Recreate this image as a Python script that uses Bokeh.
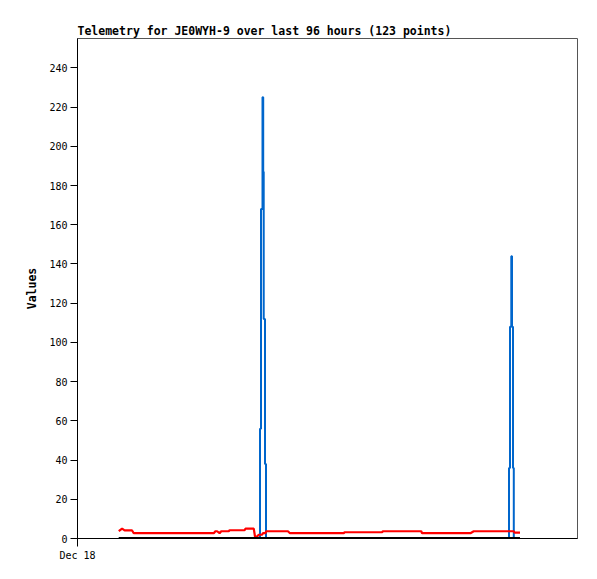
from bokeh.plotting import figure
from bokeh.models import Range1d, FixedTicker
from bokeh.embed import file_html
from bokeh.resources import INLINE

# time in hours after Dec 18 00:00
red_t = [9.9, 10.7, 11.3, 13.1, 13.5, 32.7, 33.1, 33.5, 34.1, 34.5, 36.3, 36.5, 40.1, 40.3,
         42.3, 42.6, 43.1, 43.5, 44.3, 44.5, 45.1, 45.3, 50.5, 51.0, 63.9, 64.1, 73.1, 73.3,
         82.5, 82.7, 94.3, 94.7, 95.1, 104.7, 104.9, 106.2]
red_v = [3.7, 5.0, 4.1, 4.1, 2.7, 2.7, 3.7, 3.7, 2.7, 3.7, 3.7, 4.2, 4.2, 5.0,
         5.0, 1.0, 1.0, 1.9, 1.9, 2.7, 2.7, 3.7, 3.7, 2.7, 2.7, 3.2, 3.2, 3.7,
         3.7, 2.7, 2.7, 3.2, 3.7, 3.7, 3.0, 3.0]

blue_t = [9.9, 43.8, 44.04, 44.4, 44.57, 44.69, 45.0, 45.24,
          103.56, 103.8, 104.11, 104.28, 104.52, 104.71, 106.2]
blue_v = [0, 56, 168, 225, 187, 112, 38, 0,
          36, 108, 144, 108, 36, 0, 0]

black_t = [9.9, 106.2]
black_v = [0, 0]

y_ticks = [0, 20, 40, 60, 80, 100, 120, 140, 160, 180, 200, 220, 240]
x_ticks = [0]
x_tick_labels = {0: "Dec 18"}

MONO = "DejaVu Sans Mono"

p = figure(width=589, height=571, output_backend="svg", toolbar_location=None,
           x_range=Range1d(0, 120), y_range=Range1d(0, 255),
           title="Telemetry for JE0WYH-9 over last 96 hours (123 points)",
           min_border_left=77, min_border_right=12, min_border_top=38, min_border_bottom=33)
p.title.text_font = MONO
p.title.text_font_size = "11.5px"
p.title.text_font_style = "bold"
p.title.text_color = "black"
p.title.align = "left"
p.title.offset = 0
p.title.standoff = 2

p.grid.visible = False
p.outline_line_color = "#555555"
p.outline_line_width = 1

p.step(blue_t, blue_v, mode="after", line_color="#0066CC", line_width=2)
p.line(red_t, red_v, line_color="#FF0000", line_width=2.2)
p.line(black_t, black_v, line_color="#000000", line_width=3)

ya = p.yaxis[0]
ya.ticker = FixedTicker(ticks=y_ticks)
ya.major_tick_out = 7
ya.major_tick_in = 0
ya.minor_tick_out = 0
ya.minor_tick_in = 0
ya.major_label_standoff = 3
ya.major_label_text_font = MONO
ya.major_label_text_font_size = "10px"
ya.major_label_text_color = "black"
ya.axis_label = "Values"
ya.axis_label_text_font = MONO
ya.axis_label_text_font_size = "11.5px"
ya.axis_label_text_font_style = "bold"
ya.axis_label_text_color = "black"
ya.axis_label_standoff = 7
ya.axis_line_color = "black"
ya.major_tick_line_color = "black"

xa = p.xaxis[0]
xa.ticker = FixedTicker(ticks=x_ticks)
xa.major_label_overrides = x_tick_labels
xa.major_tick_out = 8
xa.major_tick_in = 0
xa.minor_tick_out = 0
xa.minor_tick_in = 0
xa.major_label_standoff = 3
xa.major_label_text_font = MONO
xa.major_label_text_font_size = "10px"
xa.major_label_text_color = "black"
xa.axis_line_color = "black"
xa.major_tick_line_color = "black"

open("out.html", "w").write(file_html(p, INLINE))
